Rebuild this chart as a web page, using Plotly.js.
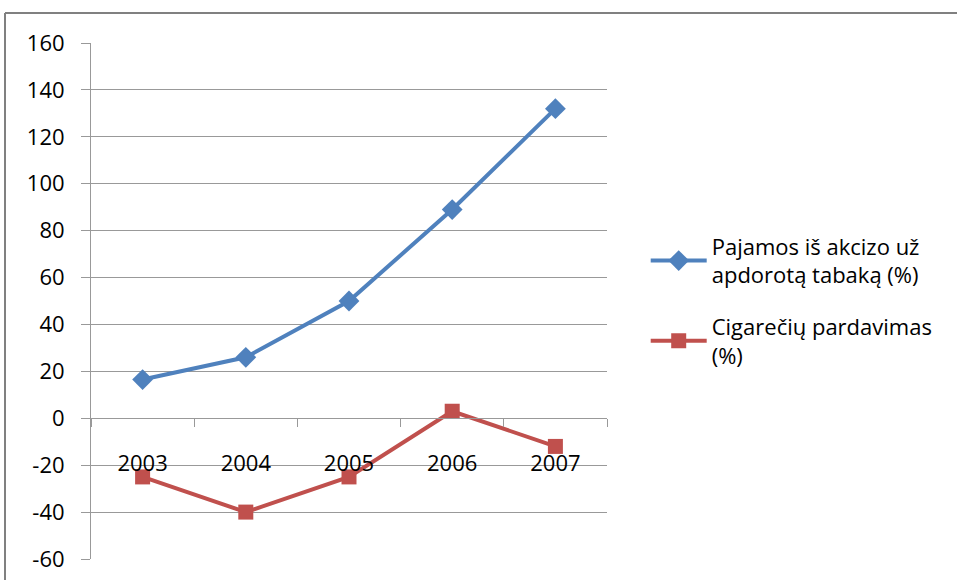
<!DOCTYPE html>
<html>
<head>
<meta charset="utf-8">
<script src="https://cdn.plot.ly/plotly-3.0.1.min.js"></script>
<style>html,body{margin:0;padding:0;background:#fff;}#chart{width:957px;height:580px;}</style>
</head>
<body>
<div id="chart"></div>
<script>
const years = ["2003", "2004", "2005", "2006", "2007"];
const excise = [16.5, 26, 50, 89, 132];
const cigaretteSales = [-25, -40, -25, 3, -12];
const seriesNames = ["Pajamos iš akcizo už<br>apdorotą tabaką (%)", "Cigarečių pardavimas<br>(%)"];
const yTicks = [-60, -40, -20, 0, 20, 40, 60, 80, 100, 120, 140, 160];
const yTickLabels = yTicks.map(v => String(v));

const FONT = "'Open Sans', Lato, sans-serif";
const yMin = -60, yMax = 160;

const traces = [
  {
    x: years, y: excise, name: seriesNames[0], type: "scatter", mode: "lines+markers",
    legendgroup: "g1",
    line: {color: "#4F81BD", width: 4},
    marker: {symbol: "diamond", size: 16, color: "#4F81BD"}
  },
  {
    x: years, y: cigaretteSales, name: seriesNames[1], type: "scatter", mode: "lines+markers",
    legendgroup: "g2",
    line: {color: "#C0504D", width: 4},
    marker: {symbol: "square", size: 15, color: "#C0504D"}
  }
];

const layout = {
  width: 957, height: 580,
  paper_bgcolor: "#fff", plot_bgcolor: "#fff",
  margin: {l: 91, r: 350, t: 43, b: 21, pad: 0},
  font: {family: FONT, size: 22, color: "#000"},
  showlegend: true,
  legend: {
    x: 1.075, y: 0.5, xanchor: "left", yanchor: "middle",
    itemwidth: 56,
    font: {family: FONT, size: 22, color: "#000"},
    tracegroupgap: 20, bgcolor: "rgba(0,0,0,0)"
  },
  xaxis: {
    type: "category", range: [-0.5, 4.5], anchor: "free", position: (0 - yMin) / (yMax - yMin),
    showline: true, linecolor: "#999", linewidth: 1,
    ticks: "outside", ticklen: 8, tickcolor: "#999", tickson: "boundaries",
    showgrid: false, zeroline: false, ticklabelstandoff: 25,
    tickfont: {family: FONT, size: 22, color: "#000"}
  },
  yaxis: {
    range: [yMin, yMax], tickmode: "array", tickvals: yTicks, ticktext: yTickLabels, domain: [0, 1],
    showline: true, linecolor: "#999", linewidth: 1,
    ticks: "outside", ticklen: 9, tickcolor: "#999",
    showgrid: true, gridcolor: "#999", gridwidth: 1, zeroline: false,
    tickfont: {family: FONT, size: 22, color: "#000"}, ticklabelstandoff: 12
  },
  shapes: [
    {type: "line", xref: "paper", yref: "paper", x0: -86/516, x1: 866/516, y0: 1 + 30/516, y1: 1 + 30/516, line: {color: "#808080", width: 2}},
    {type: "line", xref: "paper", yref: "paper", x0: -86/516, x1: -86/516, y0: 1 + 30/516, y1: -30/516, line: {color: "#808080", width: 2}}
  ]
};

Plotly.newPlot("chart", traces, layout, {displayModeBar: false, staticPlot: true});
</script>
</body>
</html>
